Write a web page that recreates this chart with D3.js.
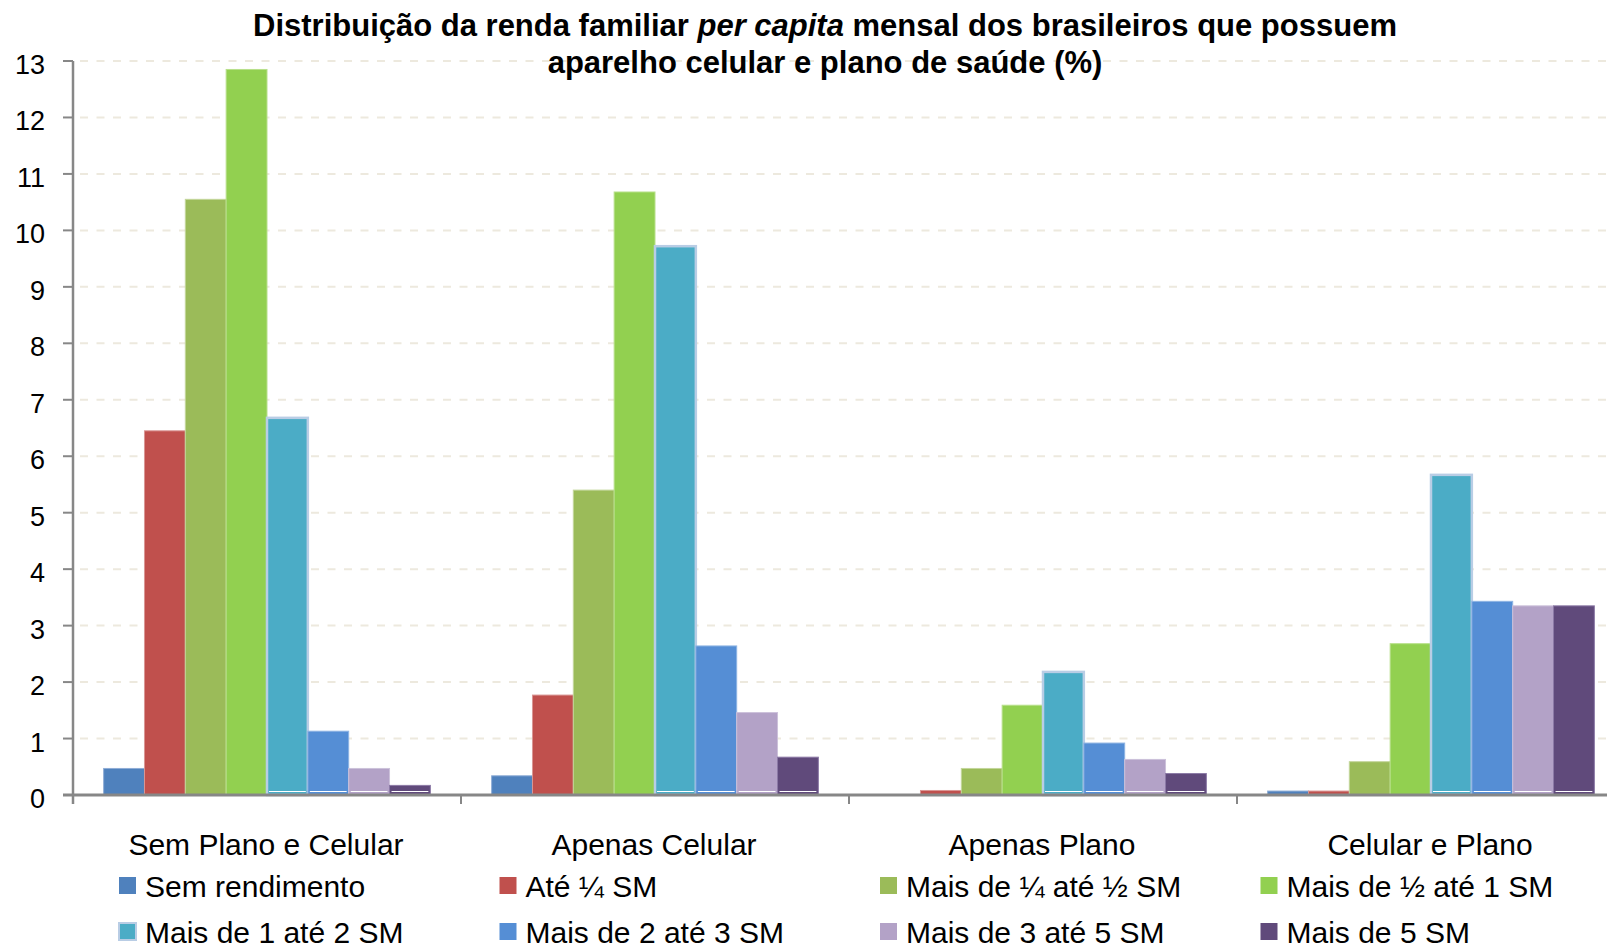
<!DOCTYPE html>
<html>
<head>
<meta charset="utf-8">
<script src="https://cdn.jsdelivr.net/npm/d3@7"></script>
<style>
  body { margin: 0; background: #fff; }
  svg { display: block; font-family: "Liberation Sans", Arial, sans-serif; }
</style>
</head>
<body>
<div id="chart"></div>
<script>
// data
var categories = ["Sem Plano e Celular", "Apenas Celular", "Apenas Plano", "Celular e Plano"];
var series = ["Sem rendimento", "Até ¼ SM", "Mais de ¼ até ½ SM", "Mais de ½ até 1 SM",
              "Mais de 1  até 2 SM", "Mais de 2 até 3 SM", "Mais de 3 até 5 SM", "Mais de 5 SM"];
var semRendimento = [0.47, 0.34, 0, 0.07];
var ateUmQuarto = [6.45, 1.77, 0.08, 0.07];
var quartoMeio = [10.55, 5.40, 0.47, 0.59];
var meioUm = [12.85, 10.68, 1.59, 2.68];
var umDois = [6.68, 9.72, 2.18, 5.67];
var doisTres = [1.13, 2.64, 0.92, 3.43];
var tresCinco = [0.47, 1.46, 0.63, 3.35];
var maisCinco = [0.17, 0.67, 0.38, 3.35];
var yTicks = [0, 1, 2, 3, 4, 5, 6, 7, 8, 9, 10, 11, 12, 13];

var values = [semRendimento, ateUmQuarto, quartoMeio, meioUm, umDois, doisTres, tresCinco, maisCinco];
var colors = ["#4f81bd", "#c0504d", "#9bbb59", "#92d050", "#4bacc6", "#558ed5", "#b3a2c7", "#604a7b"];
var edges = ["#8fadd6", "#d99694", "#c3d69b", "#b8e08a", "#b9cde5", "#8eb4e3", "#ccc1da", "#8c7aa6"];

var W = 1607, H = 950;
var svg = d3.select("#chart").append("svg").attr("width", W).attr("height", H);

var x0 = d3.scaleBand().domain(categories).range([73, 1625]).paddingInner(0).paddingOuter(0);
var x1 = d3.scaleBand().domain(d3.range(series.length)).range([0, x0.bandwidth()]).paddingInner(0).paddingOuter(0.75);
var y = d3.scaleLinear().domain([0, 13]).range([795, 61]);

// gridlines
svg.append("g").selectAll("line").data(yTicks.filter(function(d) { return d > 0; }))
  .enter().append("line")
  .attr("x1", 80).attr("x2", W)
  .attr("y1", function(d) { return y(d); }).attr("y2", function(d) { return y(d); })
  .attr("stroke", "#ede9de").attr("stroke-width", 2)
  .attr("stroke-dasharray", "8,8.5");

// bars
var rows = [];
categories.forEach(function(c, ci) {
  values.forEach(function(arr, si) {
    rows.push({cat: c, s: si, v: arr[ci]});
  });
});

var bars = svg.append("g").selectAll("g").data(rows).enter().append("g")
  .attr("transform", function(d) { return "translate(" + x0(d.cat) + ",0)"; });

bars.filter(function(d) { return d.v > 0; }).append("rect")
  .attr("x", function(d) { return x1(d.s); })
  .attr("y", function(d) { return y(d.v); })
  .attr("width", x1.bandwidth())
  .attr("height", function(d) { return y(0) - y(d.v); })
  .attr("fill", function(d) { return colors[d.s]; })
  .attr("stroke", function(d) { return edges[d.s]; })
  .attr("stroke-width", function(d) { return d.s == 4 ? 2.5 : 1; });

// thin white line near the base of the later series
bars.filter(function(d) { return d.s >= 4 && d.v > 0.1; }).append("line")
  .attr("x1", function(d) { return x1(d.s) + 2; })
  .attr("x2", function(d) { return x1(d.s) + x1.bandwidth() - 2; })
  .attr("y1", y(0) - 3.5).attr("y2", y(0) - 3.5)
  .attr("stroke", "#fff").attr("stroke-width", 1);

// axes
var axisColor = "#878787";
svg.append("line").attr("x1", 73).attr("x2", 73).attr("y1", y(13)).attr("y2", y(0) + 9)
  .attr("stroke", axisColor).attr("stroke-width", 2.5);
svg.append("line").attr("x1", 63).attr("x2", W).attr("y1", y(0)).attr("y2", y(0))
  .attr("stroke", axisColor).attr("stroke-width", 3);

svg.append("g").selectAll("line").data(yTicks).enter().append("line")
  .attr("x1", 63).attr("x2", 73)
  .attr("y1", function(d) { return y(d); }).attr("y2", function(d) { return y(d); })
  .attr("stroke", axisColor).attr("stroke-width", 2);

svg.append("g").selectAll("text").data(yTicks).enter().append("text")
  .attr("x", 45).attr("y", function(d) { return y(d) + 13; })
  .attr("text-anchor", "end")
  .attr("font-size", "27px")
  .attr("fill", "#000")
  .text(function(d) { return d; });

svg.append("g").selectAll("line").data(categories).enter().append("line")
  .attr("x1", function(d) { return x0(d) + x0.bandwidth(); })
  .attr("x2", function(d) { return x0(d) + x0.bandwidth(); })
  .attr("y1", y(0)).attr("y2", y(0) + 9)
  .attr("stroke", axisColor).attr("stroke-width", 2);

svg.append("g").selectAll("text").data(categories).enter().append("text")
  .attr("x", function(d) { return x0(d) + x0.bandwidth() / 2 - 1; })
  .attr("y", 855)
  .attr("text-anchor", "middle")
  .attr("font-size", "30px")
  .text(function(d) { return d; });

// title
var title = svg.append("text").attr("x", 825).attr("y", 36)
  .attr("text-anchor", "middle").attr("font-size", "31px").attr("font-weight", "bold");
title.append("tspan").text("Distribuição da renda familiar ");
title.append("tspan").attr("font-style", "italic").text("per capita");
title.append("tspan").text(" mensal dos brasileiros que possuem");
svg.append("text").attr("x", 825).attr("y", 73)
  .attr("text-anchor", "middle").attr("font-size", "31px").attr("font-weight", "bold")
  .text("aparelho celular e plano de saúde (%)");

// legend
var legend = svg.append("g").selectAll("g").data(series).enter().append("g")
  .attr("transform", function(d, i) {
    return "translate(" + (119 + (i % 4) * 380.5) + "," + (877 + Math.floor(i / 4) * 46) + ")";
  });
legend.append("rect")
  .attr("width", 17).attr("height", 17)
  .attr("fill", function(d, i) { return colors[i]; })
  .attr("stroke", function(d, i) { return i == 4 ? "#b9cde5" : "none"; })
  .attr("stroke-width", 2);
legend.append("text")
  .attr("x", 26).attr("y", 20)
  .attr("font-size", "30px")
  .text(function(d) { return d; });
</script>
</body>
</html>
